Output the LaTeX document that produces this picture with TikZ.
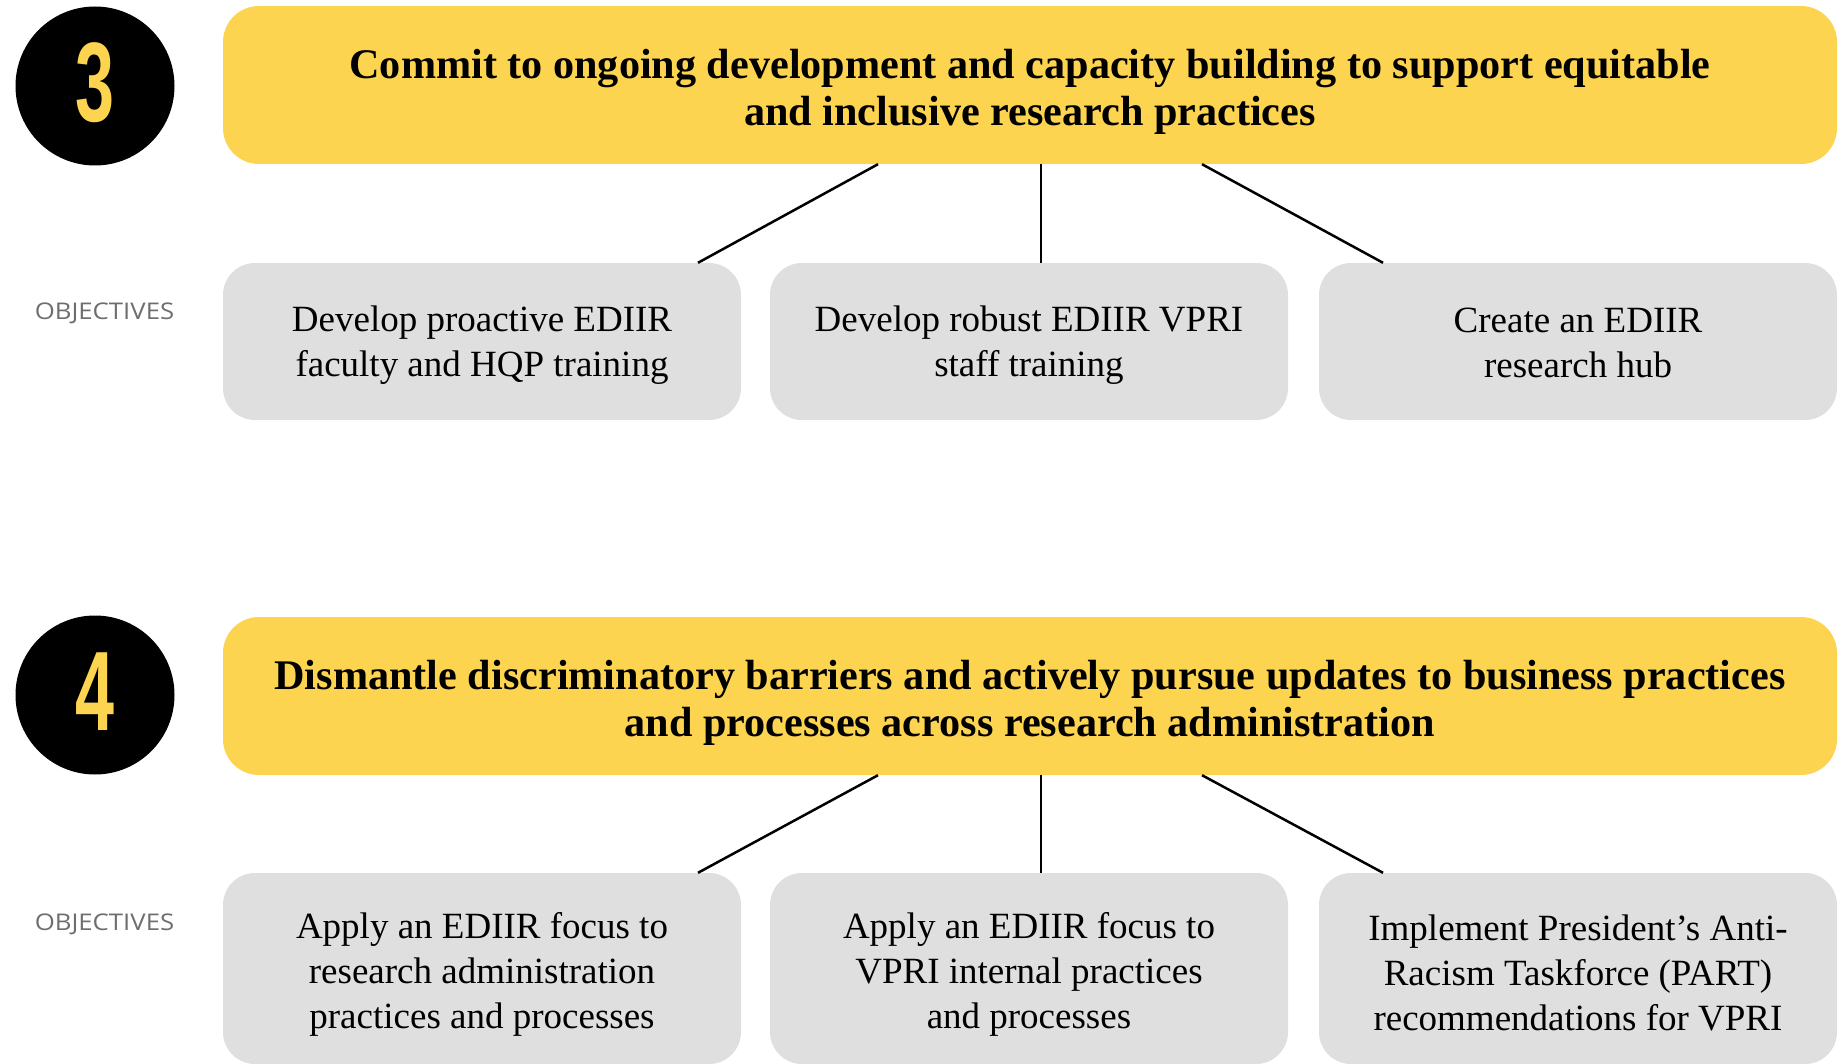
\documentclass[tikz,border=0pt]{standalone}
\usepackage{fontspec}
\setmainfont{Liberation Serif}
\newfontfamily\objfont{Open Sans}
\newfontfamily\numfont{Liberation Sans}
\definecolor{goldy}{HTML}{FDD44F}
\definecolor{greybox}{HTML}{DFDFDF}
\definecolor{objgrey}{HTML}{6E6E6E}
\begin{document}
\begin{tikzpicture}[x=1pt,y=-1pt,
 numcirc/.style={circle,fill=black,minimum size=159pt,inner sep=0pt},
 numtext/.style={inner sep=0pt,text=goldy,font=\numfont\bfseries\fontsize{113}{113}\selectfont},
 goalbox/.style={rectangle,rounded corners=36pt,fill=goldy,minimum width=1614pt,minimum height=158pt,inner sep=0pt},
 goaltext/.style={align=center,font=\bfseries\fontsize{42.2}{47}\selectfont,inner sep=0pt},
 objbox/.style={rectangle,rounded corners=32pt,fill=greybox,minimum width=518pt,inner sep=0pt},
 objtext/.style={align=center,font=\fontsize{37}{45}\selectfont,inner sep=0pt},
 objlabel/.style={text=objgrey,font=\objfont\fontsize{23}{23}\selectfont,inner sep=0pt},
 link/.style={line width=2.5pt,black}]
\useasboundingbox (0,0) rectangle (1839,1064);
% ---- goal 3
\node[numcirc] (c3) at (95,86) {};
\node[numtext] (n3) at ([yshift=3.5pt]c3.center) {\scalebox{0.62}[1]{3}};
\node[goalbox] (y3) at (1030,85) {};
\node[goaltext] (t3) at ([yshift=-7pt]y3.center) {Commit to ongoing development and capacity building to support equitable\\and inclusive research practices};
\node[objlabel] (o3) at (104.5,313) {\scalebox{1.12}[1]{OBJECTIVES}};
\node[objbox,minimum height=157pt] (g31) at (482,341.5) {};
\node[objbox,minimum height=157pt] (g32) at (1029,341.5) {};
\node[objbox,minimum height=157pt] (g33) at (1578,341.5) {};
\node[objtext] (t31) at ([yshift=-4pt]g31.center) {Develop proactive EDIIR\\faculty and HQP training};
\node[objtext] (t32) at ([yshift=-4pt]g32.center) {Develop robust EDIIR VPRI\\staff training};
\node[objtext] (t33) at ([yshift=-1.5pt]g33.center) {Create an EDIIR\\research hub};
\draw[link] ([xshift=-152pt]y3.south) -- ([xshift=216pt]g31.north);
\draw[link] ([xshift=11pt]y3.south) -- ([xshift=12pt]g32.north);
\draw[link] ([xshift=172pt]y3.south) -- ([xshift=-195pt]g33.north);
% ---- goal 4
\node[numcirc] (c4) at (95,695) {};
\node[numtext] (n4) at ([yshift=3.5pt]c4.center) {\scalebox{0.62}[1]{4}};
\node[goalbox] (y4) at (1030,696) {};
\node[goaltext] (t4) at ([yshift=-7pt]y4.center) {Dismantle discriminatory barriers and actively pursue updates to business practices\\and processes across research administration};
\node[objlabel] (o4) at (104.5,924) {\scalebox{1.12}[1]{OBJECTIVES}};
\node[objbox,minimum height=191pt] (g41) at (482,968.5) {};
\node[objbox,minimum height=191pt] (g42) at (1029,968.5) {};
\node[objbox,minimum height=191pt] (g43) at (1578,968.5) {};
\node[objtext] (t41) at ([yshift=-6pt]g41.center) {Apply an EDIIR focus to\\research administration\\practices and processes};
\node[objtext] (t42) at ([yshift=-6pt]g42.center) {Apply an EDIIR focus to\\VPRI internal practices\\and processes};
\node[objtext] (t43) at ([yshift=-4pt]g43.center) {Implement President’s Anti-\\Racism Taskforce (PART)\\recommendations for VPRI};
\draw[link] ([xshift=-152pt]y4.south) -- ([xshift=216pt]g41.north);
\draw[link] ([xshift=11pt]y4.south) -- ([xshift=12pt]g42.north);
\draw[link] ([xshift=172pt]y4.south) -- ([xshift=-195pt]g43.north);
\end{tikzpicture}
\end{document}
